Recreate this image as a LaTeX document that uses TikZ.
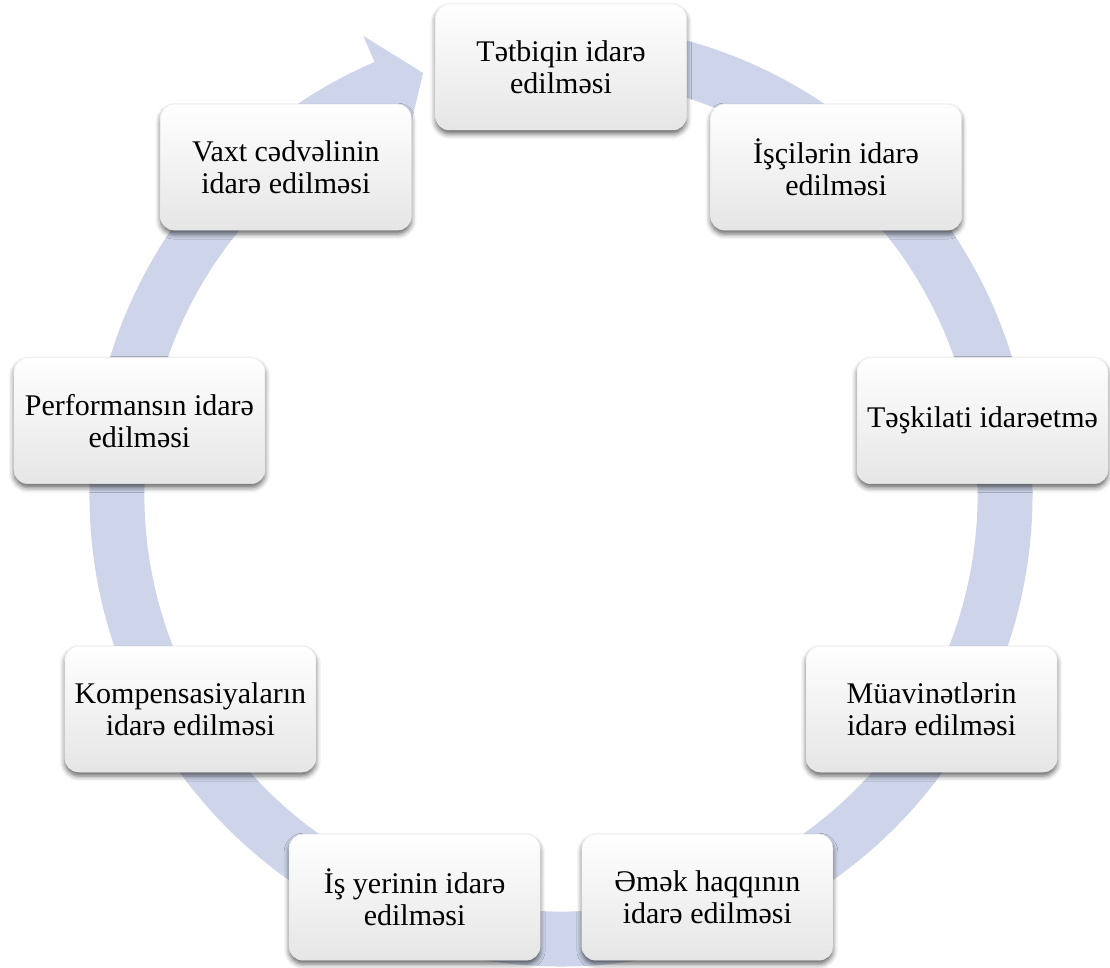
\documentclass[tikz,border=0pt]{standalone}
\usepackage{fontspec}
\setmainfont{Liberation Serif}
\usetikzlibrary{shadows.blur}
\definecolor{ringc}{HTML}{CED5EA}
\begin{document}
\begin{tikzpicture}[x=1pt,y=1pt,
  cyclebox/.style={rounded corners=14pt, minimum width=251pt, minimum height=126pt,
    top color=white, bottom color=black!10, draw=black!9, line width=0.5pt,
    align=center, font=\fontsize{30}{32}\selectfont, inner sep=2pt,
    blur shadow={shadow xshift=0pt, shadow yshift=-4pt, shadow blur radius=5pt, shadow opacity=60}}]
\useasboundingbox (-561,-473) rectangle (549,495);
\fill[ringc] (85:471.5) arc[start angle=85, end angle=-246.7, radius=471.5]
  -- (-246.7:500) -- (-251.9:444) -- (-246.7:388) -- (-246.7:416.5)
  arc[start angle=-246.7, end angle=85, radius=416.5] -- cycle;
\node[cyclebox] (n1) at (90:428) {Tətbiqin idarə\\edilməsi};
\node[cyclebox] (n2) at (50:428) {İşçilərin idarə\\edilməsi};
\node[cyclebox] (n3) at (10:428) {Təşkilati idarəetmə};
\node[cyclebox] (n4) at (-30:428) {Müavinətlərin\\idarə edilməsi};
\node[cyclebox] (n5) at (-70:428) {Əmək haqqının\\idarə edilməsi};
\node[cyclebox] (n6) at (-110:428) {İş yerinin idarə\\edilməsi};
\node[cyclebox] (n7) at (-150:428) {Kompensasiyaların\\idarə edilməsi};
\node[cyclebox] (n8) at (-190:428) {Performansın idarə\\edilməsi};
\node[cyclebox] (n9) at (-230:428) {Vaxt cədvəlinin\\idarə edilməsi};
\end{tikzpicture}
\end{document}
